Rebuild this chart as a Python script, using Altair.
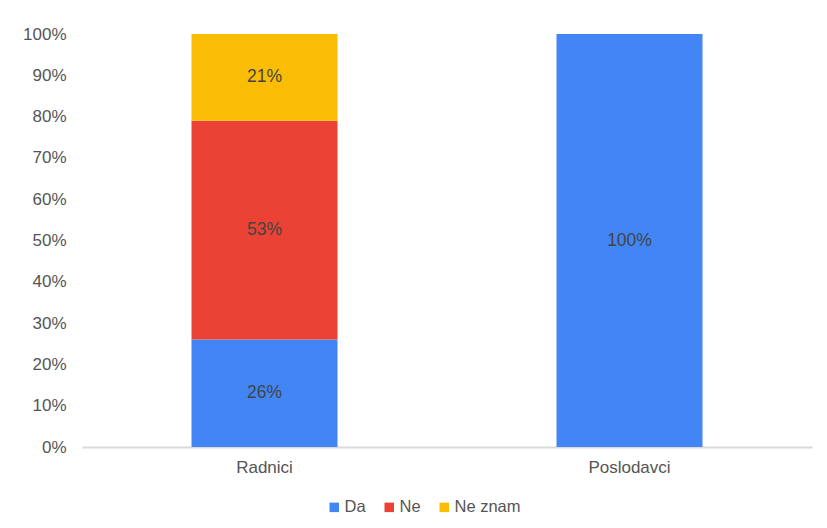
import altair as alt
import pandas as pd

categories = ["Radnici", "Radnici", "Radnici", "Poslodavci"]
answers = ["Da", "Ne", "Ne znam", "Da"]
values = [26, 53, 21, 100]
order_idx = [0, 1, 2, 0]

answer_domain = ["Da", "Ne", "Ne znam"]
answer_colors = ["#4285F4", "#EA4335", "#FBBC04"]
cat_order = ["Radnici", "Poslodavci"]

df = pd.DataFrame({"cat": categories, "ans": answers, "val": values, "ord": order_idx})
df["label"] = df["val"].astype(str) + "%"

FONT = "Liberation Sans"

base = alt.Chart(df).encode(
    x=alt.X("cat:N", sort=cat_order, title=None,
            scale=alt.Scale(paddingInner=0.6, paddingOuter=0.3),
            axis=alt.Axis(labelAngle=0, ticks=False, domainColor="#d9d9d9", domainWidth=2,
                          labelFontSize=17, labelColor="#555555", labelFont=FONT, labelPadding=12)),
)

bars = base.mark_bar().encode(
    y=alt.Y("val:Q", stack="zero", title=None,
            scale=alt.Scale(domain=[0, 100]),
            axis=alt.Axis(values=list(range(0, 101, 10)), labelExpr="datum.value + '%'",
                          grid=False, ticks=False, domain=False, labelFontSize=17,
                          labelColor="#555555", labelFont=FONT, labelPadding=16)),
    color=alt.Color("ans:N", scale=alt.Scale(domain=answer_domain, range=answer_colors),
                    title=None,
                    legend=alt.Legend(orient="none", legendX=244, legendY=465,
                                      direction="horizontal",
                                      symbolType="square", symbolSize=90,
                                      labelFontSize=16.5, labelColor="#555555", labelFont=FONT,
                                      columnPadding=15, symbolStrokeWidth=0,
                                      labelOffset=2)),
    order=alt.Order("ord:Q"),
)

texts = base.mark_text(fontSize=17.5, color="#444444", font=FONT).encode(
    y=alt.Y("mid:Q"),
    text="label:N",
).transform_stack(
    stack="val", groupby=["cat"], as_=["v0", "v1"], sort=[alt.SortField("ord")]
).transform_calculate(mid="(datum.v0 + datum.v1) / 2")

chart = (bars + texts).properties(
    width=730, height=413,
    padding={"left": 74, "top": 26, "right": 7, "bottom": 73},
    autosize=alt.AutoSizeParams(type="none"),
    background="white",
).configure_view(stroke=None)

chart.save("out.html", embed_options={"renderer": "svg", "actions": False})
